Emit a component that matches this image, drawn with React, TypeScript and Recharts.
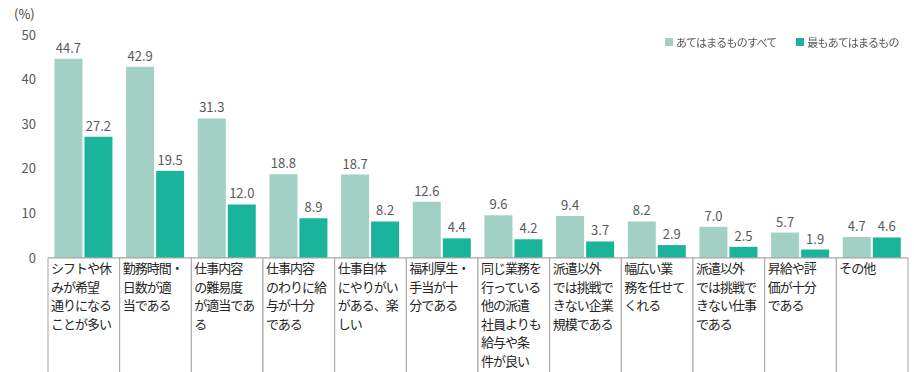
import { Bar, BarChart, LabelList, XAxis, YAxis } from 'recharts';

const categories: string[][] = [
  ['シフトや休', 'みが希望', '通りになる', 'ことが多い'],
  ['勤務時間・', '日数が適', '当である'],
  ['仕事内容', 'の難易度', 'が適当であ', 'る'],
  ['仕事内容', 'のわりに給', '与が十分', 'である'],
  ['仕事自体', 'にやりがい', 'がある、楽', 'しい'],
  ['福利厚生・', '手当が十', '分である'],
  ['同じ業務を', '行っている', '他の派遣', '社員よりも', '給与や条', '件が良い'],
  ['派遣以外', 'では挑戦で', 'きない企業', '規模である'],
  ['幅広い業', '務を任せて', 'くれる'],
  ['派遣以外', 'では挑戦で', 'きない仕事', 'である'],
  ['昇給や評', '価が十分', 'である'],
  ['その他'],
];

const allValues = [44.7, 42.9, 31.3, 18.8, 18.7, 12.6, 9.6, 9.4, 8.2, 7.0, 5.7, 4.7];
const mostValues = [27.2, 19.5, 12.0, 8.9, 8.2, 4.4, 4.2, 3.7, 2.9, 2.5, 1.9, 4.6];
const yTicks = [0, 10, 20, 30, 40, 50];

const seriesNames = ['あてはまるものすべて', '最もあてはまるもの'];
const seriesColors = ['#a3d0c4', '#1ab39b'];

const data = categories.map((lines, i) => ({
  name: lines.join(''),
  all: allValues[i],
  most: mostValues[i],
}));

const FONT = '"Noto Sans CJK JP", "Noto Sans", sans-serif';
const PLOT_LEFT = 48;
const PLOT_RIGHT = 908;
const BAND = (PLOT_RIGHT - PLOT_LEFT) / categories.length;

const CategoryTick = (props: any) => {
  const { x, y, index } = props;
  const lines = categories[index] || [];
  const left = x - BAND / 2;
  return (
    <g>
      <rect x={left} y={y} width={BAND} height={140} fill='#fff' stroke='#a6a6a6' strokeWidth={1} />
      {lines.map((line, i) => (
        <text
          key={i}
          x={left + 3}
          y={y + 15 + i * 18.6}
          fontSize={13}
          letterSpacing={-1}
          fill='#262626'
          fontFamily={FONT}
        >
          {line}
        </text>
      ))}
    </g>
  );
};

const fmt = (v: any) => Number(v).toFixed(1);

const App = () => {
  return (
    <div style={{ position: 'fixed', left: 0, top: 0, width: 914, height: 372, background: '#fff' }}>
      <div
        style={{
          position: 'absolute',
          left: 14,
          top: 4,
          fontFamily: FONT,
          fontSize: 13,
          color: '#404040',
        }}
      >
        (%)
      </div>
      {/* Legend */}
      <div
        style={{
          position: 'absolute',
          left: 665,
          top: 34,
          display: 'flex',
          whiteSpace: 'nowrap',
          fontFamily: FONT,
          fontSize: 11,
          letterSpacing: -0.8,
          color: '#595959',
          zIndex: 2,
        }}
      >
        {seriesNames.map((n, i) => (
          <div key={n} style={{ display: 'flex', alignItems: 'center', marginRight: 20 }}>
            <span
              style={{
                display: 'inline-block',
                width: 8,
                height: 8,
                background: seriesColors[i],
                marginRight: 3,
              }}
            />
            {n}
          </div>
        ))}
      </div>
      <BarChart
        width={914}
        height={372}
        data={data}
        margin={{ top: 35, right: 6, left: 0, bottom: 0 }}
        barGap={2}
        barCategoryGap='9%'
      >
        <XAxis
          dataKey='name'
          height={114}
          interval={0}
          tickLine={false}
          tickSize={0}
          tickMargin={0}
          axisLine={{ stroke: '#a6a6a6' }}
          tick={<CategoryTick />}
        />
        <YAxis
          width={48}
          domain={[0, 50]}
          ticks={yTicks}
          axisLine={false}
          tickLine={false}
          tickMargin={6}
          tick={{ fontSize: 13, fill: '#595959', fontFamily: FONT }}
        />
        <Bar dataKey='all' name={seriesNames[0]} fill={seriesColors[0]} isAnimationActive={false}>
          <LabelList
            dataKey='all'
            position='top'
            offset={6}
            formatter={fmt}
            style={{ fontSize: 13, fill: '#595959', fontFamily: FONT }}
          />
        </Bar>
        <Bar dataKey='most' name={seriesNames[1]} fill={seriesColors[1]} isAnimationActive={false}>
          <LabelList
            dataKey='most'
            position='top'
            offset={6}
            formatter={fmt}
            style={{ fontSize: 13, fill: '#595959', fontFamily: FONT }}
          />
        </Bar>
      </BarChart>
    </div>
  );
};

export default App;
